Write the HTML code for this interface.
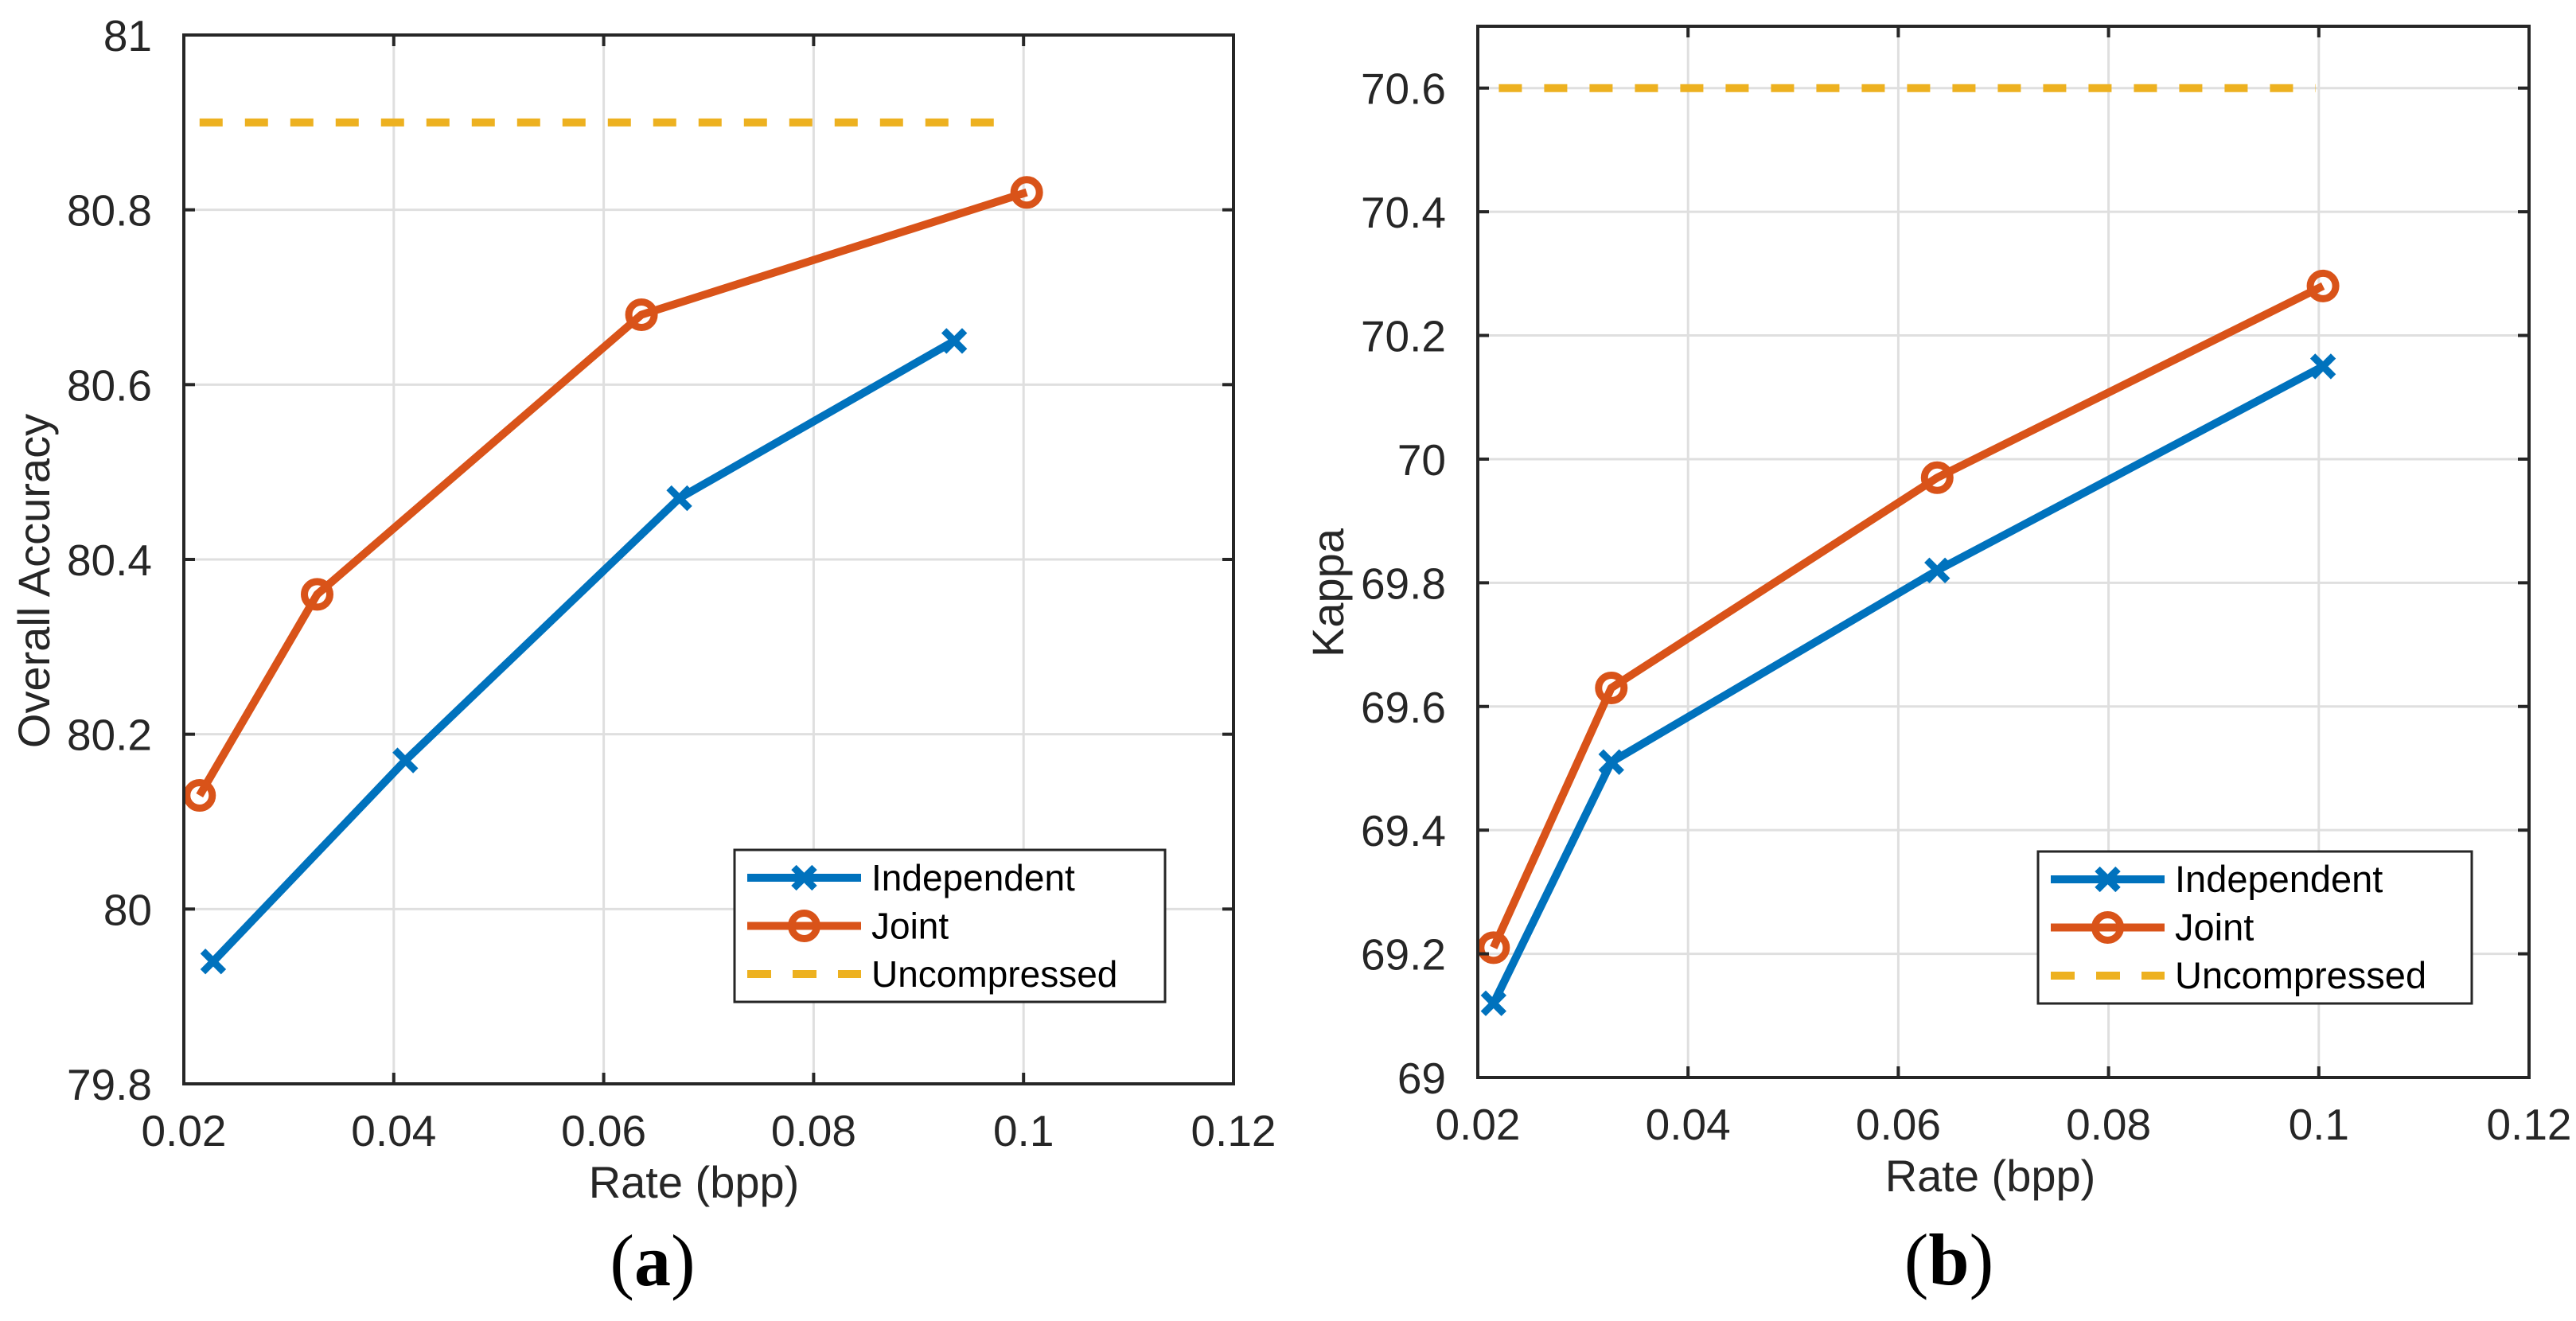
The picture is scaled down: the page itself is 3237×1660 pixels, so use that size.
<!DOCTYPE html>
<html><head><meta charset="utf-8"><style>
html,body{margin:0;padding:0;background:#fff;}
svg{display:block;font-family:"Liberation Sans",Arial,sans-serif;}
</style></head><body>
<svg id="fig" width="3237" height="1660" viewBox="0 0 3237 1660" xmlns="http://www.w3.org/2000/svg"></svg>
<script>
// Panel (a) data
const xTicks = [0.02, 0.04, 0.06, 0.08, 0.1, 0.12];
const xTickLabels = ["0.02","0.04","0.06","0.08","0.1","0.12"];
const aYTicks = [79.8, 80, 80.2, 80.4, 80.6, 80.8, 81];
const aYTickLabels = ["79.8","80","80.2","80.4","80.6","80.8","81"];
const aIndepX = [0.0228, 0.0411, 0.0672, 0.0934];
const aIndepY = [79.94, 80.17, 80.47, 80.65];
const aJointX = [0.0215, 0.0327, 0.0636, 0.1003];
const aJointY = [80.13, 80.36, 80.68, 80.82];
const aUncX = [0.0215, 0.0985];
const aUncY = [80.9, 80.9];
// Panel (b) data
const bYTicks = [69, 69.2, 69.4, 69.6, 69.8, 70, 70.2, 70.4, 70.6];
const bYTickLabels = ["69","69.2","69.4","69.6","69.8","70","70.2","70.4","70.6"];
const bIndepX = [0.0215, 0.0327, 0.0637, 0.1004];
const bIndepY = [69.12, 69.51, 69.82, 70.15];
const bJointX = [0.0215, 0.0327, 0.0637, 0.1004];
const bJointY = [69.21, 69.63, 69.97, 70.28];
const bUncX = [0.022, 0.0997];
const bUncY = [70.6, 70.6];

const NS = "http://www.w3.org/2000/svg";
const svg = document.getElementById('fig');
function mk(tag, attrs, parent, name, inter) {
  const e = document.createElementNS(NS, tag);
  for (const k in attrs) e.setAttribute(k, attrs[k]);
  
  
  (parent || svg).appendChild(e);
  return e;
}
const BLUE = "#0072BD", ORANGE = "#D95319", YEL = "#EDB120", AX = "#262626";

function panel(cfg) {
  const g = mk('g', {}, svg, cfg.id, false);
  const L = cfg.L, R = cfg.R, T = cfg.T, B = cfg.B;
  const sx = v => L + (v - 0.02) / 0.10 * (R - L);
  const sy = v => B - (v - cfg.ymin) / (cfg.ymax - cfg.ymin) * (B - T);
  xTicks.forEach((t, i) => {
    if (i > 0 && i < xTicks.length - 1) {
      mk('line', {x1: sx(t), x2: sx(t), y1: T, y2: B, stroke: "#dfdfdf", "stroke-width": 3}, g, 'x-gridline', false);
    }
  });
  cfg.yTicks.forEach((t, i) => {
    mk('line', {x1: L, x2: R, y1: sy(t), y2: sy(t), stroke: "#dfdfdf", "stroke-width": 3}, g, 'y-gridline', false);
  });
  function series(xs, ys, color, dash, name) {
    const pts = xs.map((x, i) => sx(x) + ',' + sy(ys[i])).join(' ');
    const a = {points: pts, fill: 'none', stroke: color, 'stroke-width': 10, 'stroke-linejoin': 'round'};
    if (dash) a['stroke-dasharray'] = '29 28';
    mk('polyline', a, g, name, false);
  }
  function xMarkers(xs, ys, name) {
    xs.forEach((x, i) => {
      const cx = sx(x), cy = sy(ys[i]), d = 13;
      mk('path', {d: `M${cx-d},${cy-d}L${cx+d},${cy+d}M${cx-d},${cy+d}L${cx+d},${cy-d}`, stroke: BLUE, 'stroke-width': 9, fill: 'none'}, g, name, false);
    });
  }
  function oMarkers(xs, ys, name) {
    xs.forEach((x, i) => {
      mk('circle', {cx: sx(x), cy: sy(ys[i]), r: 16, fill: 'none', stroke: ORANGE, 'stroke-width': 9}, g, name, false);
    });
  }
  series(cfg.uX, cfg.uY, YEL, true, 'uncompressed-line');
  series(cfg.iX, cfg.iY, BLUE, false, 'independent-line');
  xMarkers(cfg.iX, cfg.iY, 'independent-marker');
  series(cfg.jX, cfg.jY, ORANGE, false, 'joint-line');
  oMarkers(cfg.jX, cfg.jY, 'joint-marker');
  mk('rect', {x: L, y: T, width: R - L, height: B - T, fill: 'none', stroke: AX, 'stroke-width': 4}, g, 'axes-box', false);
  xTicks.forEach((t, i) => {
    const x = sx(t);
    mk('line', {x1: x, x2: x, y1: B, y2: B - 14, stroke: AX, 'stroke-width': 4}, g, 'x-tick', false);
    mk('line', {x1: x, x2: x, y1: T, y2: T + 14, stroke: AX, 'stroke-width': 4}, g, 'x-tick-top', false);
    const tx = mk('text', {x: x, y: B + 78, 'text-anchor': 'middle', 'font-size': 55, fill: AX}, g, 'x-tick-label', false);
    tx.textContent = xTickLabels[i];
  });
  cfg.yTicks.forEach((t, i) => {
    const y = sy(t);
    mk('line', {x1: L, x2: L + 14, y1: y, y2: y, stroke: AX, 'stroke-width': 4}, g, 'y-tick', false);
    mk('line', {x1: R, x2: R - 14, y1: y, y2: y, stroke: AX, 'stroke-width': 4}, g, 'y-tick-right', false);
    const tx = mk('text', {x: L - 40, y: y + 20, 'text-anchor': 'end', 'font-size': 55, fill: AX}, g, 'y-tick-label', false);
    tx.textContent = cfg.yTickLabels[i];
  });
  const xt = mk('text', {x: cfg.xtX, y: cfg.xtY, 'text-anchor': 'middle', 'font-size': 56, fill: AX}, g, 'x-axis-title', false);
  xt.textContent = 'Rate (bpp)';
  const yt = mk('text', {x: 0, y: 0, 'text-anchor': 'middle', 'font-size': 56, fill: AX, transform: `translate(${cfg.ytX},${cfg.ytY}) rotate(-90)`}, g, 'y-axis-title', false);
  yt.textContent = cfg.ytitle;
  const lg = mk('g', {}, g, 'legend', false);
  const lx = cfg.legX, ly = cfg.legY, lw = cfg.legW, lh = cfg.legH;
  mk('rect', {x: lx, y: ly, width: lw, height: lh, fill: '#fff', stroke: AX, 'stroke-width': 3}, lg, 'legend-box', false);
  const rows = [['Independent', BLUE, 'x'], ['Joint', ORANGE, 'o'], ['Uncompressed', YEL, 'd']];
  rows.forEach((r, i) => {
    const ry = ly + 35 + i * (lh - 70) / 2;
    const x1 = lx + 16, x2 = lx + 159, mx = (x1 + x2) / 2;
    const ln = mk('line', {x1: x1, x2: x2, y1: ry, y2: ry, stroke: r[1], 'stroke-width': 10}, lg, 'legend-line-' + r[0].toLowerCase(), false);
    if (r[2] === 'd') ln.setAttribute('stroke-dasharray', '30 27');
    if (r[2] === 'x') mk('path', {d: `M${mx-13},${ry-13}L${mx+13},${ry+13}M${mx-13},${ry+13}L${mx+13},${ry-13}`, stroke: BLUE, 'stroke-width': 9}, lg, 'legend-marker-independent', false);
    if (r[2] === 'o') mk('circle', {cx: mx, cy: ry, r: 16, fill: 'none', stroke: ORANGE, 'stroke-width': 9}, lg, 'legend-marker-joint', false);
    const tx = mk('text', {x: lx + 172, y: ry + 16, 'font-size': cfg.legFont, fill: '#000'}, lg, 'legend-entry', false);
    tx.textContent = r[0];
  });
  const cap = mk('text', {x: cfg.capX, y: cfg.capY, 'text-anchor': 'middle', 'font-size': 92, fill: '#000', 'font-family': '"Liberation Serif",serif'}, g, 'panel-caption', false);
  cap.innerHTML = '(<tspan font-weight="bold">' + cfg.cap + '</tspan>)';
}

panel({id: 'panel-a', L: 231, R: 1550, T: 44, B: 1362, ymin: 79.8, ymax: 81,
  yTicks: aYTicks, yTickLabels: aYTickLabels, iX: aIndepX, iY: aIndepY, jX: aJointX, jY: aJointY, uX: aUncX, uY: aUncY,
  xtX: 872, xtY: 1505, ytX: 62, ytY: 730, ytitle: 'Overall Accuracy',
  legX: 923, legY: 1068, legW: 541, legH: 191, legFont: 46, capX: 820, capY: 1615, cap: 'a'});
panel({id: 'panel-b', L: 1857, R: 3178, T: 33, B: 1354, ymin: 69, ymax: 70.7,
  yTicks: bYTicks, yTickLabels: bYTickLabels, iX: bIndepX, iY: bIndepY, jX: bJointX, jY: bJointY, uX: bUncX, uY: bUncY,
  xtX: 2501, xtY: 1497, ytX: 1688, ytY: 745, ytitle: 'Kappa',
  legX: 2561, legY: 1070, legW: 545, legH: 191, legFont: 47, capX: 2449, capY: 1614, cap: 'b'});
</script>
</body></html>
